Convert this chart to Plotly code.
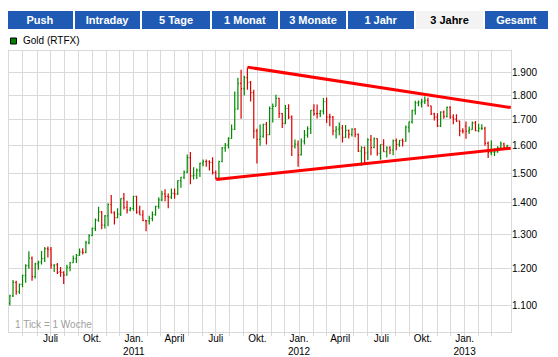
import pandas as pd
import plotly.graph_objects as go

# ---------------- data (weekly gold bars, Friday dates) ----------------
first_week = "2010-04-02"
opens = [
    1106, 1125, 1161, 1136, 1156, 1180, 1208, 1229, 1177, 1213, 1218, 1228, 1257, 1255, 1209, 1210, 1191, 1189, 1181, 1203,
    1216, 1228, 1237, 1247, 1246, 1275, 1296, 1318, 1344, 1370, 1328, 1357, 1394, 1367, 1352, 1363, 1413, 1385, 1376, 1381,
    1421, 1369, 1360, 1343, 1341, 1349, 1361, 1388, 1409, 1429, 1421, 1418, 1431, 1429, 1474, 1486, 1504, 1556, 1491, 1493,
    1511, 1536, 1542, 1541, 1539, 1502, 1485, 1542, 1592, 1602, 1628, 1663, 1744, 1852, 1829, 1877, 1857, 1812, 1657, 1624,
    1636, 1682, 1642, 1746, 1755, 1788, 1725, 1686, 1746, 1711, 1598, 1606,
    1566, 1617, 1640, 1665, 1738, 1725, 1725, 1735, 1774, 1711, 1711, 1657, 1663, 1668, 1632, 1659, 1643, 1663, 1643, 1580,
    1593, 1573, 1622, 1593, 1627, 1572, 1604, 1578, 1592, 1584, 1619, 1605, 1620, 1617, 1671, 1692, 1738, 1769, 1768, 1773,
    1780, 1757, 1724, 1711, 1676, 1731, 1714, 1751, 1711, 1703, 1696, 1657,
    1675, 1656, 1662, 1688, 1658, 1667, 1667, 1609, 1574, 1576, 1577, 1592, 1607, 1595,
]
highs = [
    1128, 1168, 1166, 1158, 1182, 1212, 1249, 1234, 1216, 1222, 1250, 1262, 1263, 1262, 1212, 1215, 1204, 1192, 1210, 1218,
    1237, 1241, 1257, 1258, 1280, 1300, 1321, 1349, 1387, 1373, 1360, 1398, 1425, 1372, 1382, 1414, 1432, 1406, 1386, 1422,
    1423, 1390, 1375, 1344, 1358, 1371, 1390, 1418, 1440, 1445, 1430, 1447, 1447, 1476, 1488, 1510, 1567, 1577, 1521, 1517,
    1537, 1549, 1549, 1546, 1557, 1510, 1545, 1595, 1610, 1632, 1682, 1817, 1877, 1912, 1885, 1921, 1862, 1825, 1665, 1682,
    1685, 1692, 1754, 1767, 1803, 1791, 1728, 1760, 1764, 1718, 1624, 1620,
    1627, 1660, 1675, 1740, 1764, 1762, 1740, 1790, 1792, 1725, 1716, 1676, 1690, 1680, 1680, 1662, 1667, 1668, 1647, 1598,
    1597, 1628, 1641, 1631, 1628, 1605, 1625, 1598, 1598, 1624, 1627, 1622, 1627, 1678, 1693, 1741, 1778, 1779, 1786, 1796,
    1791, 1757, 1729, 1727, 1735, 1738, 1754, 1755, 1723, 1723, 1697, 1667,
    1694, 1674, 1694, 1696, 1685, 1683, 1673, 1616, 1620, 1591, 1598, 1616, 1611, 1604,
]
lows = [
    1100, 1122, 1128, 1130, 1148, 1160, 1199, 1166, 1172, 1196, 1211, 1218, 1231, 1199, 1190, 1184, 1177, 1157, 1180, 1192,
    1215, 1215, 1236, 1240, 1243, 1270, 1295, 1310, 1339, 1315, 1318, 1325, 1365, 1330, 1350, 1357, 1378, 1365, 1372, 1374,
    1364, 1360, 1340, 1309, 1330, 1340, 1358, 1380, 1405, 1405, 1382, 1412, 1413, 1425, 1450, 1480, 1500, 1462, 1478, 1480,
    1487, 1525, 1523, 1510, 1496, 1478, 1482, 1539, 1578, 1590, 1626, 1660, 1741, 1705, 1800, 1825, 1775, 1627, 1535, 1600,
    1630, 1605, 1640, 1690, 1755, 1708, 1668, 1683, 1704, 1562, 1590, 1523,
    1564, 1605, 1630, 1645, 1717, 1706, 1712, 1722, 1688, 1675, 1640, 1627, 1640, 1612, 1630, 1627, 1635, 1632, 1577, 1527,
    1532, 1547, 1565, 1591, 1563, 1548, 1578, 1556, 1568, 1565, 1583, 1596, 1597, 1615, 1650, 1686, 1721, 1755, 1750, 1765,
    1754, 1720, 1698, 1672, 1672, 1705, 1710, 1705, 1683, 1692, 1636, 1647,
    1626, 1645, 1661, 1655, 1652, 1660, 1600, 1555, 1565, 1562, 1574, 1591, 1590, 1592,
]
closes = [
    1125, 1161, 1136, 1156, 1180, 1208, 1229, 1177, 1213, 1218, 1228, 1256, 1255, 1209, 1210, 1189, 1189, 1181, 1203, 1216,
    1228, 1237, 1247, 1246, 1275, 1296, 1318, 1344, 1370, 1328, 1357, 1394, 1367, 1352, 1363, 1413, 1385, 1376, 1381, 1421,
    1369, 1360, 1343, 1341, 1349, 1361, 1388, 1409, 1429, 1421, 1418, 1431, 1429, 1474, 1486, 1504, 1556, 1491, 1493, 1511,
    1536, 1542, 1541, 1539, 1502, 1485, 1542, 1592, 1602, 1628, 1663, 1744, 1852, 1829, 1877, 1857, 1812, 1657, 1624, 1636,
    1682, 1642, 1746, 1755, 1788, 1725, 1686, 1746, 1711, 1598, 1606, 1566,
    1617, 1640, 1665, 1738, 1725, 1725, 1735, 1774, 1711, 1711, 1657, 1663, 1668, 1632, 1659, 1643, 1663, 1643, 1580, 1593,
    1573, 1622, 1593, 1627, 1572, 1604, 1578, 1592, 1584, 1619, 1605, 1620, 1617, 1671, 1692, 1738, 1769, 1773, 1773, 1780,
    1757, 1724, 1711, 1676, 1731, 1714, 1751, 1711, 1703, 1696, 1657, 1656,
    1656, 1662, 1688, 1658, 1667, 1667, 1609, 1574, 1576, 1577, 1592, 1607, 1595, 1600,
]

# trend lines drawn on the chart
upper_trend_dates = ["2011-09-09", "2013-04-13"]
upper_trend_values = [1924, 1750]
lower_trend_dates = ["2011-07-02", "2013-04-13"]
lower_trend_values = [1478, 1591]

# axes
x_range = ["2010-03-31 02:00", "2013-04-13 12:00"]
x_tick_dates = [
    "2010-05-01", "2010-06-01", "2010-07-01", "2010-08-01", "2010-09-01", "2010-10-01", "2010-11-01", "2010-12-01",
    "2011-01-01", "2011-02-01", "2011-03-01", "2011-04-01", "2011-05-01", "2011-06-01", "2011-07-01", "2011-08-01",
    "2011-09-01", "2011-10-01", "2011-11-01", "2011-12-01", "2012-01-01", "2012-02-01", "2012-03-01", "2012-04-01",
    "2012-05-01", "2012-06-01", "2012-07-01", "2012-08-01", "2012-09-01", "2012-10-01", "2012-11-01", "2012-12-01",
    "2013-01-01", "2013-02-01", "2013-03-01",
]
x_tick_labels = [
    "", "", "Juli", "", "", "Okt.", "", "",
    "Jan.<br>2011", "", "", "April", "", "", "Juli", "",
    "", "Okt.", "", "", "Jan.<br>2012", "", "", "April",
    "", "", "Juli", "", "", "Okt.", "", "",
    "Jan.<br>2013", "", "",
]
y_tick_values = [1100, 1200, 1300, 1400, 1500, 1600, 1700, 1800, 1900]
y_tick_labels = ["1.100", "1.200", "1.300", "1.400", "1.500", "1.600", "1.700", "1.800", "1.900"]
y_range_log = [3.01437, 3.30063]

tab_labels = ["Push", "Intraday", "5 Tage", "1 Monat", "3 Monate", "1 Jahr", "3 Jahre", "Gesamt"]
selected_tab = "3 Jahre"
series_name = "Gold (RTFX)"
note_text = "1 Tick = 1 Woche"

# ---------------- layout geometry (screen pixels) ----------------
W, H = 558, 357
BODY = 8  # default page margin of the html body
PL, PR, PT, PB = 9, 511, 51, 332  # plot area on screen


def px_x(p):
    return (p - PL) / (PR - PL)


def px_y(p):
    return (PB - p) / (PB - PT)


tab_left = [7, 75, 142, 212, 280, 348, 416, 485]
tab_width = [66, 65, 68, 66, 66, 66, 67, 63]

GREEN = "#008a00"
RED = "#dd0000"
GRID = "#d9d9d9"
BLUE = "#1f5bb5"
FONT = "Liberation Sans, Arial, sans-serif"

dates = pd.date_range(first_week, periods=len(closes), freq="7D")

fig = go.Figure()
fig.add_trace(go.Ohlc(
    x=dates, open=opens, high=highs, low=lows, close=closes,
    increasing=dict(line=dict(color=GREEN, width=1.2)),
    decreasing=dict(line=dict(color=RED, width=1.2)),
    tickwidth=0.32, showlegend=False, hoverinfo="skip", name=series_name,
))
fig.add_trace(go.Scatter(x=upper_trend_dates, y=upper_trend_values, mode="lines",
                         line=dict(color="#ff0000", width=3), showlegend=False, hoverinfo="skip"))
fig.add_trace(go.Scatter(x=lower_trend_dates, y=lower_trend_values, mode="lines",
                         line=dict(color="#ff0000", width=3), showlegend=False, hoverinfo="skip"))

annotations = []
for lbl, left, w in zip(tab_labels, tab_left, tab_width):
    sel = lbl == selected_tab
    annotations.append(dict(
        xref="paper", yref="paper", x=px_x(left), y=px_y(20), xanchor="left", yanchor="middle",
        text=lbl, showarrow=False, width=w, height=18, borderpad=0, borderwidth=0,
        bgcolor="#f3f3f3" if sel else BLUE, align="center", valign="middle",
        font=dict(family=FONT, size=11, color="#000000" if sel else "#ffffff", weight="bold"),
    ))
annotations.append(dict(
    xref="paper", yref="paper", x=px_x(21), y=px_y(41), xanchor="left", yanchor="middle",
    text=series_name, showarrow=False, font=dict(family=FONT, size=10, color="#000000"),
))
annotations.append(dict(
    xref="paper", yref="paper", x=px_x(13), y=px_y(324.5), xanchor="left", yanchor="middle",
    text=note_text, showarrow=False, font=dict(family=FONT, size=10, color="#a0a0a0"),
))

shapes = [dict(
    type="rect", xref="paper", yref="paper",
    x0=px_x(10.5), x1=px_x(16.5), y0=px_y(44), y1=px_y(38),
    fillcolor="#008000", line=dict(color="#000000", width=1),
)]

fig.update_layout(
    width=W, height=H,
    margin=dict(l=PL - BODY, r=W - (PR - BODY), t=PT - BODY, b=H - (PB - BODY), autoexpand=False),
    paper_bgcolor="white", plot_bgcolor="white", showlegend=False,
    font=dict(family=FONT, size=10, color="#000000"),
    annotations=annotations, shapes=shapes,
)
fig.update_xaxes(
    type="date", range=x_range, tickmode="array", tickvals=x_tick_dates, ticktext=x_tick_labels,
    showgrid=True, gridcolor=GRID, gridwidth=1, ticks="outside", ticklen=3, tickcolor=GRID,
    ticklabelstandoff=-6,
    showline=True, linecolor=GRID, linewidth=1, mirror=True, zeroline=False, automargin=False,
    rangeslider=dict(visible=False), tickangle=0, tickfont=dict(family=FONT, size=10, color="#000000"),
)
fig.update_yaxes(
    type="log", range=y_range_log, side="right", tickmode="array",
    tickvals=y_tick_values, ticktext=y_tick_labels,
    showgrid=True, gridcolor=GRID, gridwidth=1, ticks="", automargin=False,
    ticklabelstandoff=-2,
    showline=True, linecolor=GRID, linewidth=1, mirror=True, zeroline=False,
    tickfont=dict(family=FONT, size=10, color="#000000"),
)

fig.write_html("out.html")
